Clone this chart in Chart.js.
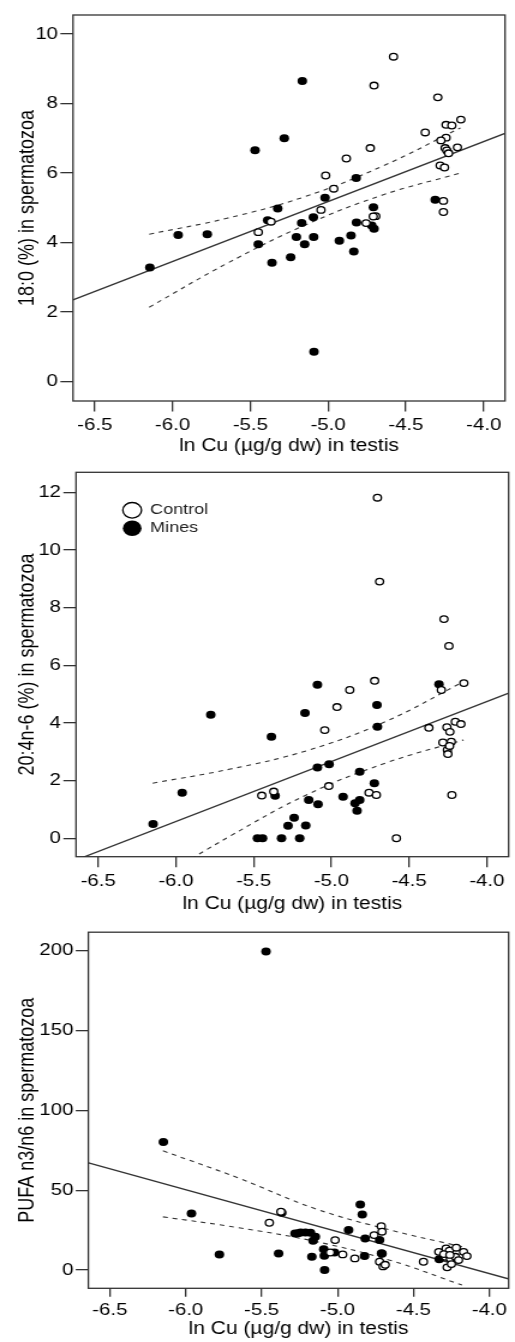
<!DOCTYPE html>
<html>
<head>
<meta charset="utf-8">
<title>Testis Cu and sperm fatty acids</title>
<script src="https://cdn.jsdelivr.net/npm/chart.js@4.4.1/dist/chart.umd.min.js"></script>
<style>
  body { margin: 0; background: #fff; }
  #page { position: relative; width: 515px; height: 1342px; overflow: hidden; background: #fff; }
  #page canvas { position: absolute; left: 0; }
</style>
</head>
<body>
<div id="page">
  <!-- canvases are drawn narrower and widened by CSS, like the printed figure -->
  <canvas id="chart18" width="429" height="460" style="top:0;width:515px;height:460px"></canvas>
  <canvas id="chart204" width="429" height="460" style="top:460px;width:515px;height:460px"></canvas>
  <canvas id="chartPufa" width="429" height="422" style="top:920px;width:515px;height:422px"></canvas>
</div>
<script>
// ln Cu (ug/g dw) in testis, shared x axis
const xTicks = [-6.5, -6.0, -5.5, -5.0, -4.5, -4.0];

// 18:0 (%) in spermatozoa
const mines18X = [-5.166, -5.282, -5.470, -4.820, -5.020, -5.324, -4.709, -5.389, -5.095, -5.170, -4.818, -4.720, -4.705, -5.964,
  -5.777, -5.204, -5.093, -4.928, -4.853, -6.146, -5.449, -5.361, -5.241, -5.151, -4.835, -5.091, -4.312];
const mines18Y = [8.65, 7.00, 6.66, 5.86, 5.29, 4.98, 5.02, 4.64, 4.73, 4.56, 4.58, 4.49, 4.40, 4.22,
  4.24, 4.16, 4.16, 4.05, 4.20, 3.28, 3.95, 3.42, 3.58, 3.95, 3.74, 0.86, 5.23];
const control18X = [-4.580, -4.705, -4.295, -4.147, -4.242, -4.205, -4.376, -4.242, -4.275, -4.729, -4.169, -4.248, -4.237, -4.226,
  -4.883, -4.280, -4.252, -5.016, -4.964, -4.259, -4.259, -5.046, -4.756, -4.694, -4.710, -5.449, -5.367];
const control18Y = [9.35, 8.52, 8.18, 7.54, 7.39, 7.37, 7.17, 7.02, 6.94, 6.72, 6.74, 6.72, 6.65, 6.57,
  6.42, 6.22, 6.16, 5.93, 5.55, 5.20, 4.88, 4.94, 4.56, 4.76, 4.75, 4.30, 4.60];
const fit18X = [-6.64, -3.86];
const fit18Y = [2.35, 7.15];
const band18X = [-6.15, -5.65, -5.15, -4.65, -4.15];
const band18Up = [4.24, 4.70, 5.32, 6.20, 7.30];
const band18Lo = [2.14, 3.40, 4.50, 5.37, 6.00];
const yTicks18 = [0, 2, 4, 6, 8, 10];

// 20:4n-6 (%) in spermatozoa
const mines204X = [-5.090, -4.308, -4.707, -5.776, -5.170, -5.386, -4.704, -5.090, -5.015, -4.818, -4.724, -5.960, -5.362, -5.146,
  -5.086, -4.925, -4.848, -4.818, -4.835, -6.147, -5.240, -5.279, -5.165, -5.476, -5.443, -5.321, -5.204];
const mines204Y = [5.32, 5.34, 4.62, 4.28, 4.34, 3.52, 3.87, 2.45, 2.57, 2.31, 1.91, 1.58, 1.47, 1.33,
  1.18, 1.44, 1.21, 1.33, 0.95, 0.49, 0.71, 0.43, 0.44, 0, 0, 0, 0];
const control204X = [-4.704, -4.690, -4.276, -4.244, -4.722, -4.148, -4.882, -4.293, -4.964, -5.043, -4.373, -4.257, -4.203, -4.167,
  -4.238, -4.283, -4.229, -4.254, -4.251, -4.240, -4.225, -5.017, -5.371, -5.448, -4.758, -4.711, -4.582];
const control204Y = [11.81, 8.90, 7.60, 6.67, 5.46, 5.38, 5.14, 5.14, 4.55, 3.75, 3.83, 3.85, 4.04, 3.96,
  3.69, 3.32, 3.35, 3.06, 2.92, 3.20, 1.50, 1.81, 1.62, 1.48, 1.58, 1.50, 0];
const fit204X = [-6.64, -3.86];
const fit204Y = [-0.75, 5.03];
const band204X = [-6.15, -5.65, -5.15, -4.65, -4.15];
const band204Up = [1.91, 2.40, 3.05, 4.05, 5.43];
const band204Lo = [-1.52, 0.08, 1.53, 2.61, 3.41];
const yTicks204 = [0, 2, 4, 6, 8, 10, 12];

// PUFA n3/n6 in spermatozoa
const minesPufaX = [-5.471, -6.147, -5.962, -5.778, -5.367, -5.388, -5.280, -5.243, -5.211, -5.178, -5.146, -5.161, -5.169, -5.091,
  -5.087, -5.085, -5.020, -4.927, -4.850, -4.837, -4.818, -4.822, -4.723, -4.707, -4.330, -5.260, -4.710];
const minesPufaY = [199.4, 80.2, 35.4, 9.8, 35.8, 10.4, 22.9, 23.5, 23.5, 23.3, 20.8, 18.3, 8.3, 13.1,
  9.0, 0, 11.0, 25.0, 41.0, 34.8, 19.8, 8.75, 18.75, 10.2, 6.8, 23.0, 10.5];
const controlPufaX = [-5.373, -5.449, -5.016, -5.048, -4.966, -4.886, -4.759, -4.712, -4.707, -4.723, -4.700, -4.686, -4.434, -4.333,
  -4.285, -4.263, -4.218, -4.289, -4.257, -4.224, -4.203, -4.170, -4.148, -4.278, -4.250, -4.300, -4.260];
const controlPufaY = [36.5, 29.6, 18.75, 11.0, 9.8, 7.3, 21.9, 27.5, 24.0, 5.2, 2.3, 3.3, 5.2, 11.4,
  13.5, 12.1, 14.0, 8.3, 7.3, 8.3, 6.25, 11.4, 8.75, 1.7, 3.75, 10.0, 9.5];
const fitPufaX = [-6.64, -3.87];
const fitPufaY = [67.1, -5.6];
const bandPufaX = [-6.15, -5.65, -5.15, -4.65, -4.18];
const bandPufaUp = [74.6, 57.5, 38.5, 25.0, 14.6];
const bandPufaLo = [33.3, 26.5, 18.0, 6.0, -9.4];
const yTicksPufa = [0, 50, 100, 150, 200];

document.addEventListener('DOMContentLoaded', () => {

    Chart.defaults.font.family = '"Liberation Sans", Arial, Helvetica, sans-serif';
    Chart.defaults.color = '#000';

    const ink = '#333';

    const pairs = (xs, ys) => xs.map((x, i) => ({ x: x, y: ys[i] }));

    // Box round the plotting area (all four sides)
    const frame = {
        id: 'frame',
        beforeDatasetsDraw(chart) {
            const { ctx, chartArea: a } = chart;
            ctx.save();
            ctx.strokeStyle = ink;
            ctx.lineWidth = 1.3;
            ctx.strokeRect(a.left, a.top, a.right - a.left, a.bottom - a.top);
            ctx.restore();
        }
    };

    // Puts the legend at a fixed spot inside the plotting area
    const legendSpot = {
        id: 'legendSpot',
        afterLayout(chart, args, opts) {
            const lg = chart.legend;
            if (!lg || !opts.on) return;
            const a = chart.chartArea;
            lg.left = a.left + opts.dx;
            lg.top = a.top + opts.dy;
            lg.right = lg.left + 150;
            lg.bottom = lg.top + 120;
            lg.width = 150;
            lg.height = 120;
        }
    };

    function renderPanel(id, p) {
        const dashed = { showLine: true, pointRadius: 0, borderColor: ink, borderWidth: 1.1, borderDash: [4, 4], tension: 0.4 };

        return new Chart(document.getElementById(id), {
            type: 'scatter',
            data: {
                datasets: [
                    {
                        label: 'Control',
                        data: pairs(p.controlX, p.controlY),
                        pointRadius: 3.3,
                        backgroundColor: '#fff',
                        borderColor: '#000',
                        borderWidth: 1.3
                    },
                    {
                        label: 'Mines',
                        data: pairs(p.minesX, p.minesY),
                        pointRadius: 4,
                        backgroundColor: '#000',
                        borderColor: '#000',
                        borderWidth: 0
                    },
                    {
                        label: 'fit',
                        data: pairs(p.fitX, p.fitY),
                        showLine: true,
                        pointRadius: 0,
                        borderColor: ink,
                        borderWidth: 1.3
                    },
                    Object.assign({ label: 'upper', data: pairs(p.bandX, p.bandUp) }, dashed),
                    Object.assign({ label: 'lower', data: pairs(p.bandX, p.bandLo) }, dashed)
                ]
            },
            options: {
                responsive: false,
                animation: false,
                layout: { padding: { top: p.top, right: p.right, left: 0, bottom: 0 } },
                plugins: {
                    tooltip: { enabled: false },
                    legend: {
                        display: p.legend,
                        position: 'chartArea',
                        align: 'start',
                        labels: {
                            usePointStyle: true,
                            boxHeight: 11,
                            padding: 3,
                            color: '#222',
                            font: { size: 15 },
                            filter: item => item.datasetIndex < 2
                        }
                    },
                    legendSpot: { on: p.legend, dx: 36.3, dy: 27.5 }
                },
                scales: {
                    x: {
                        type: 'linear',
                        min: p.xMin,
                        max: p.xMax,
                        afterBuildTicks: s => { s.ticks = xTicks.map(v => ({ value: v })); },
                        afterFit: s => { s.height = p.xAxisH; },
                        border: { display: false },
                        grid: { drawOnChartArea: false, tickLength: p.xTickLen, color: ink, lineWidth: 1.3 },
                        ticks: { padding: p.xTickPad, autoSkip: false, maxRotation: 0, font: { size: 17 }, callback: v => v.toFixed(1) },
                        title: { display: true, text: 'ln Cu (µg/g dw) in testis', font: { size: 17.5 }, padding: { top: 0, bottom: p.xTitlePad } }
                    },
                    y: {
                        type: 'linear',
                        min: p.yMin,
                        max: p.yMax,
                        afterBuildTicks: s => { s.ticks = p.yTicks.map(v => ({ value: v })); },
                        afterFit: s => { s.width = p.yAxisW; },
                        border: { display: false },
                        grid: { drawOnChartArea: false, tickLength: 10.5, color: ink, lineWidth: 1.3 },
                        ticks: { padding: 2, font: { size: 17 }, callback: v => String(v) },
                        title: { display: true, text: p.yTitle, font: { size: 18 }, padding: { top: 12.3, bottom: 0 } }
                    }
                }
            },
            plugins: [frame, legendSpot]
        });
    }

    renderPanel('chart18', {
        controlX: control18X, controlY: control18Y, minesX: mines18X, minesY: mines18Y,
        fitX: fit18X, fitY: fit18Y, bandX: band18X, bandUp: band18Up, bandLo: band18Lo,
        yTicks: yTicks18, yTitle: '18:0 (%) in spermatozoa',
        xMin: -6.64, xMax: -3.863, yMin: -0.56, yMax: 10.55,
        top: 15, right: 8.3, yAxisW: 60.8, xAxisH: 59,
        xTickLen: 10.5, xTickPad: 4, xTitlePad: 3, legend: false
    });

    renderPanel('chart204', {
        controlX: control204X, controlY: control204Y, minesX: mines204X, minesY: mines204Y,
        fitX: fit204X, fitY: fit204Y, bandX: band204X, bandUp: band204Up, bandLo: band204Lo,
        yTicks: yTicks204, yTitle: '20:4n-6 (%) in spermatozoa',
        xMin: -6.643, xMax: -3.86, yMin: -0.64, yMax: 12.69,
        top: 12.3, right: 5, yAxisW: 63.3, xAxisH: 63.3,
        xTickLen: 10.5, xTickPad: 4, xTitlePad: 5.5, legend: true
    });

    renderPanel('chartPufa', {
        controlX: controlPufaX, controlY: controlPufaY, minesX: minesPufaX, minesY: minesPufaY,
        fitX: fitPufaX, fitY: fitPufaY, bandX: bandPufaX, bandUp: bandPufaUp, bandLo: bandPufaLo,
        yTicks: yTicksPufa, yTitle: 'PUFA n3/n6 in spermatozoa',
        xMin: -6.641, xMax: -3.873, yMin: -11.4, yMax: 211.4,
        top: 11.7, right: 0.8, yAxisW: 73.6, xAxisH: 53.7,
        xTickLen: 8.5, xTickPad: 3, xTitlePad: 2.5, legend: false
    });
});
</script>
</body>
</html>
